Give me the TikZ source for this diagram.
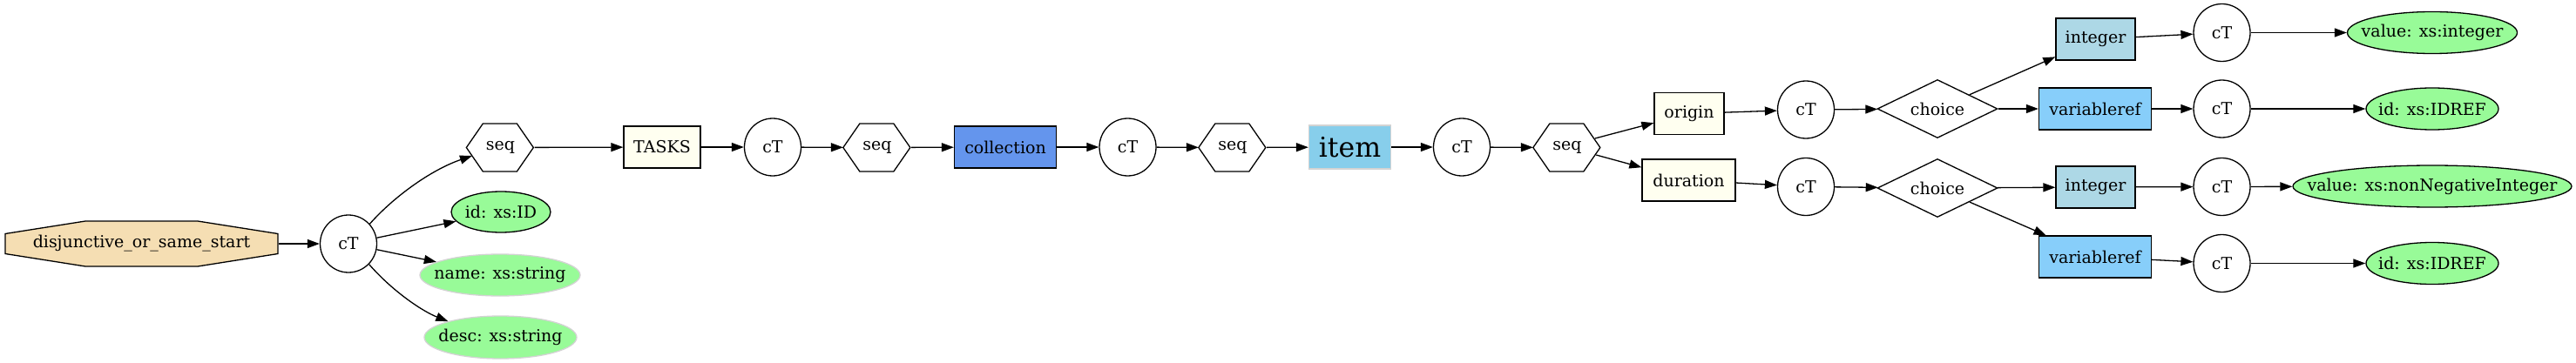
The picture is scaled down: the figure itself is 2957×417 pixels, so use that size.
\documentclass[tikz,border=0pt]{standalone}
\usepackage{fontspec}
\setmainfont{DejaVu Serif}
\usetikzlibrary{arrows.meta,shapes.geometric}
\definecolor{wheatc}{HTML}{F5DEB3}
\definecolor{palegreenc}{HTML}{98FB98}
\definecolor{ivoryc}{HTML}{FFFFF0}
\definecolor{cornflowerc}{HTML}{6495ED}
\definecolor{skybluec}{HTML}{87CEEB}
\definecolor{lightbluec}{HTML}{ADD8E6}
\definecolor{lightskybluec}{HTML}{87CEFA}
\definecolor{lightgrayc}{HTML}{D3D3D3}
\newcommand\hexshape[1]{\draw[shp] (#1.west) -- ++(19,-27.5) -- ++(39,0) -- ++(19,27.5) -- ++(-19,27.5) -- ++(-39,0) -- cycle;}
\begin{document}
\begin{tikzpicture}[x=1pt,y=-1pt,
  every node/.style={font=\fontsize{19}{22}\selectfont, inner sep=0pt, line width=1.3pt},
  ct/.style={ellipse, draw, fill=white, minimum width=65pt, minimum height=66pt},
  hexa/.style={rectangle, minimum width=77pt, minimum height=55pt},
  octnode/.style={rectangle, minimum width=313pt, minimum height=52pt},
  box/.style={rectangle, draw, minimum height=48pt},
  attr/.style={ellipse, draw, fill=palegreenc, minimum height=48pt, label={center:#1}},
  optattr/.style={ellipse, draw=lightgrayc, fill=palegreenc, minimum height=48pt, label={center:#1}},
  choicen/.style={diamond, draw, aspect=2.06, minimum width=138pt, minimum height=67pt},
  edge/.style={line width=1.3pt, -{Triangle[length=14pt,width=10pt]}},
  shp/.style={draw, line width=1.3pt, line join=miter}
]
\useasboundingbox (0,0) rectangle (2957,417);
% octagon outline
\draw[shp, fill=wheatc] (6,268.5) -- (98,254) -- (227,254) -- (319,268.5) -- (319,291.5) -- (227,306) -- (98,306) -- (6,291.5) -- cycle;
\node[octnode] (root) at (162.5,280) {disjunctive\_or\_same\_start};
\node[ct] (ct1) at (400,280) {cT};
\node[hexa] (seq1) at (574.5,169.5) {seq};
\node[attr={id: xs:ID}, minimum width=114pt, minimum height=47pt] (id1) at (575,243.5) {};
\node[optattr={name: xs:string}, minimum width=184pt] (name) at (574,316) {};
\node[optattr={desc: xs:string}, minimum width=175pt, minimum height=49pt] (desc) at (574.5,387.5) {};
\node[box, fill=ivoryc, minimum width=88pt] (tasks) at (760,169) {TASKS};
\node[ct] (ct2) at (887,169) {cT};
\node[hexa] (seq2) at (1007,169.5) {seq};
\node[box, fill=cornflowerc, minimum width=117pt] (coll) at (1154,169) {collection};
\node[ct] (ct3) at (1294.5,169) {cT};
\node[hexa] (seq3) at (1415,169.5) {seq};
\node[box, draw=lightgrayc, fill=skybluec, minimum width=94pt, minimum height=50pt, font=\fontsize{31.5}{36}\selectfont] (item) at (1549.5,169) {item};
\node[ct] (ct4) at (1678,169) {cT};
\node[hexa] (seq4) at (1799,169.5) {seq};
\node[box, fill=ivoryc, minimum width=80pt] (origin) at (1939,130.5) {origin};
\node[box, fill=ivoryc, minimum width=107pt] (duration) at (1938.5,207) {duration};
\node[ct] (ct5) at (2073,126) {cT};
\node[ct] (ct6) at (2073,214.5) {cT};
\node[choicen] (ch1) at (2224,125) {choice};
\node[choicen] (ch2) at (2224,216) {choice};
\node[box, fill=lightbluec, minimum width=91pt] (int1) at (2405.5,45) {integer};
\node[box, fill=lightskybluec, minimum width=129pt] (var1) at (2405,125) {variableref};
\node[box, fill=lightbluec, minimum width=91pt] (int2) at (2405.5,215) {integer};
\node[box, fill=lightskybluec, minimum width=129pt] (var2) at (2405,295) {variableref};
\node[ct] (ct7) at (2550.5,37.5) {cT};
\node[ct] (ct8) at (2550.5,125) {cT};
\node[ct] (ct9) at (2550.5,214.5) {cT};
\node[ct] (ct10) at (2550.5,302.5) {cT};
\node[attr={value: xs:integer}, minimum width=195pt] (v1) at (2792,37.5) {};
\node[attr={id: xs:IDREF}, minimum width=152pt] (r1) at (2792,125) {};
\node[attr={value: xs:nonNegativeInteger}, minimum width=320pt] (v2) at (2792,214) {};
\node[attr={id: xs:IDREF}, minimum width=152pt] (r2) at (2792,302.5) {};
% hexagon outlines
\hexshape{seq1}
\hexshape{seq2}
\hexshape{seq3}
\hexshape{seq4}
% helper coordinates on hexagon borders
\coordinate (s1in) at ([shift={(6.6,9.5)}]seq1.west);
\coordinate (s4a) at ([shift={(-7.3,-10.5)}]seq4.east);
\coordinate (s4b) at ([shift={(-5.9,8.5)}]seq4.east);
% connectors
\draw[edge] (root) -- (ct1);
\draw[edge] (ct1.43) .. controls (452,226) and (495,195) .. (s1in);
\draw[edge] (ct1) -- (id1);
\draw[edge] (ct1) -- (name);
\draw[edge] (ct1.-45) .. controls (452,336) and (486,358) .. (desc.163);
\draw[edge] (seq1) -- (tasks);
\draw[edge] (tasks) -- (ct2);
\draw[edge] (ct2) -- (seq2);
\draw[edge] (seq2) -- (coll);
\draw[edge] (coll) -- (ct3);
\draw[edge] (ct3) -- (seq3);
\draw[edge] (seq3) -- (item);
\draw[edge] (item) -- (ct4);
\draw[edge] (ct4) -- (seq4);
\draw[edge] (s4a) -- (origin);
\draw[edge] (s4b) -- (duration);
\draw[edge] (origin) -- (ct5);
\draw[edge] (ct5) -- (ch1);
\draw[edge] (duration) -- (ct6);
\draw[edge] (ct6) -- (ch2);
\draw[edge] (ch1) -- (int1);
\draw[edge] (ch1) -- (var1);
\draw[edge] (ch2) -- (int2);
\draw[edge] (ch2) -- (var2);
\draw[edge] (int1) -- (ct7);
\draw[edge] (var1) -- (ct8);
\draw[edge] (int2) -- (ct9);
\draw[edge] (var2) -- (ct10);
\draw[edge] (ct7) -- (v1);
\draw[edge] (ct8) -- (r1);
\draw[edge] (ct9) -- (v2);
\draw[edge] (ct10) -- (r2);
\end{tikzpicture}
\end{document}
